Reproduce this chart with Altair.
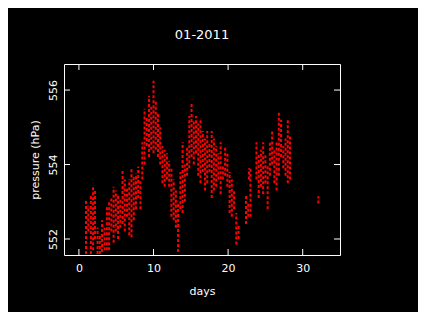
import altair as alt
import pandas as pd

days = [0.95, 1.25, 1.6, 1.9, 2.15, 2.5, 2.8, 3.1, 3.45, 3.75, 4.05, 4.35, 4.65, 4.95,
        5.25, 5.55, 5.85, 6.15, 6.45, 6.75, 7.05, 7.35, 7.65, 7.95, 8.25, 8.5, 8.8,
        9.1, 9.4, 9.7, 10.0, 10.3, 10.6, 10.9, 11.2, 11.5, 11.8, 12.1, 12.4, 12.7,
        13.0, 13.3, 13.6, 13.9, 14.2, 14.5, 14.8, 15.1, 15.4, 15.7, 16.0, 16.3, 16.6,
        16.9, 17.2, 17.5, 17.8, 18.1, 18.4, 18.7, 19.0, 19.3, 19.6, 19.9, 20.2, 20.5,
        20.8, 21.1, 21.4, 22.4, 22.7, 22.8, 23.0, 23.8, 24.1, 24.4, 24.7, 25.0, 25.3,
        25.6, 25.9, 26.2, 26.5, 26.8, 27.1, 27.4, 27.7, 28.0, 28.3, 32.1]
lows = [551.6, 552.2, 551.6, 551.7, 552.0, 551.6, 551.6, 551.65, 551.7, 551.7, 551.7,
        552.2, 551.9, 552.2, 552.0, 552.3, 552.4, 552.2, 552.6, 552.1, 552.05, 552.5,
        552.8, 553.1, 552.8, 553.6, 554.0, 554.5, 554.2, 554.4, 554.3, 554.4, 554.2,
        554.0, 553.5, 553.4, 553.6, 553.4, 552.6, 552.5, 552.3, 551.65, 552.8, 552.7,
        553.0, 553.7, 553.9, 554.2, 554.0, 554.3, 553.7, 553.5, 553.8, 553.3, 553.5,
        553.8, 553.1, 553.3, 553.4, 553.6, 553.2, 553.6, 553.7, 553.4, 552.7, 552.6,
        552.8, 551.85, 552.0, 552.4, 552.6, 553.6, 552.6, 553.6, 553.1, 553.4, 553.2,
        553.5, 552.8, 553.7, 554.0, 553.5, 553.3, 553.7, 554.2, 553.9, 553.7, 553.5,
        553.6, 552.95]
highs = [553.05, 552.9, 553.2, 553.45, 553.3, 552.3, 552.1, 552.5, 552.3, 552.85,
         553.0, 553.1, 553.4, 553.3, 553.2, 553.1, 553.85, 553.6, 553.4, 553.6, 553.9,
         553.7, 553.75, 553.95, 553.6, 554.6, 555.5, 555.3, 555.85, 555.6, 556.25,
         555.7, 555.4, 555.0, 554.5, 554.4, 554.3, 554.1, 553.9, 553.6, 553.3, 553.0,
         553.8, 554.6, 554.0, 554.5, 555.3, 555.65, 555.2, 555.3, 555.1, 555.25, 554.9,
         554.7, 554.9, 554.6, 554.9, 554.7, 554.5, 554.3, 554.6, 554.0, 554.5, 554.3,
         553.8, 553.6, 553.3, 552.7, 552.4, 553.2, 553.0, 553.9, 553.9, 554.6, 554.3,
         554.4, 554.6, 554.3, 554.0, 554.6, 554.9, 554.4, 554.6, 555.4, 555.2, 554.5,
         554.7, 555.2, 554.8, 553.15]

x_ticks = [0, 10, 20, 30]
y_ticks = [552, 554, 556]

W, H = 276, 191
FONT = "DejaVu Sans"

df = pd.DataFrame({"day": days, "lo": lows, "hi": highs})
xt = pd.DataFrame({"v": x_ticks})
yt = pd.DataFrame({"v": y_ticks})

xs = alt.Scale(domain=[-2, 35], nice=False, zero=False)
ys = alt.Scale(domain=[551.57, 556.7], nice=False, zero=False)

x_axis = alt.Axis(
    title="days", values=x_ticks, grid=False, ticks=False, domain=False,
    labelColor="white", titleColor="white", labelFont=FONT, titleFont=FONT,
    labelFontSize=11, titleFontSize=11, titleFontWeight="normal",
    labelPadding=7, titlePadding=12)
y_axis = alt.Axis(
    title="pressure (hPa)", values=y_ticks, grid=False, ticks=False, domain=False,
    labelAngle=270, labelAlign="center", labelBaseline="bottom",
    labelColor="white", titleColor="white", labelFont=FONT, titleFont=FONT,
    labelFontSize=11, titleFontSize=11, titleFontWeight="normal",
    labelPadding=6, titlePadding=7)

points = alt.Chart(df).mark_rule(color="#ff0000", strokeWidth=2, strokeDash=[3, 2]).encode(
    x=alt.X("day:Q", scale=xs, axis=x_axis),
    y=alt.Y("lo:Q", scale=ys, axis=y_axis),
    y2="hi:Q",
)

tick_bottom = alt.Chart(xt).mark_rule(color="white").encode(
    x=alt.X("v:Q", scale=xs, axis=x_axis), y=alt.value(H - 6), y2=alt.value(H))
tick_top = alt.Chart(xt).mark_rule(color="white").encode(
    x=alt.X("v:Q", scale=xs, axis=x_axis), y=alt.value(0), y2=alt.value(6))
tick_left = alt.Chart(yt).mark_rule(color="white").encode(
    y=alt.Y("v:Q", scale=ys, axis=y_axis), x=alt.value(0), x2=alt.value(6))
tick_right = alt.Chart(yt).mark_rule(color="white").encode(
    y=alt.Y("v:Q", scale=ys, axis=y_axis), x=alt.value(W - 6), x2=alt.value(W))

chart = alt.layer(points, tick_bottom, tick_top, tick_left, tick_right).properties(
    width=W, height=H,
    title=alt.Title("01-2011", color="white", font=FONT, fontSize=13,
                    fontWeight="normal", offset=22),
    autosize=alt.AutoSizeParams(type="none"),
    padding={"left": 56, "top": 56, "right": 78, "bottom": 57},
).configure(background="black").configure_view(stroke="white", strokeWidth=1)

chart.save("out.html", embed_options={"renderer": "svg", "actions": False})
